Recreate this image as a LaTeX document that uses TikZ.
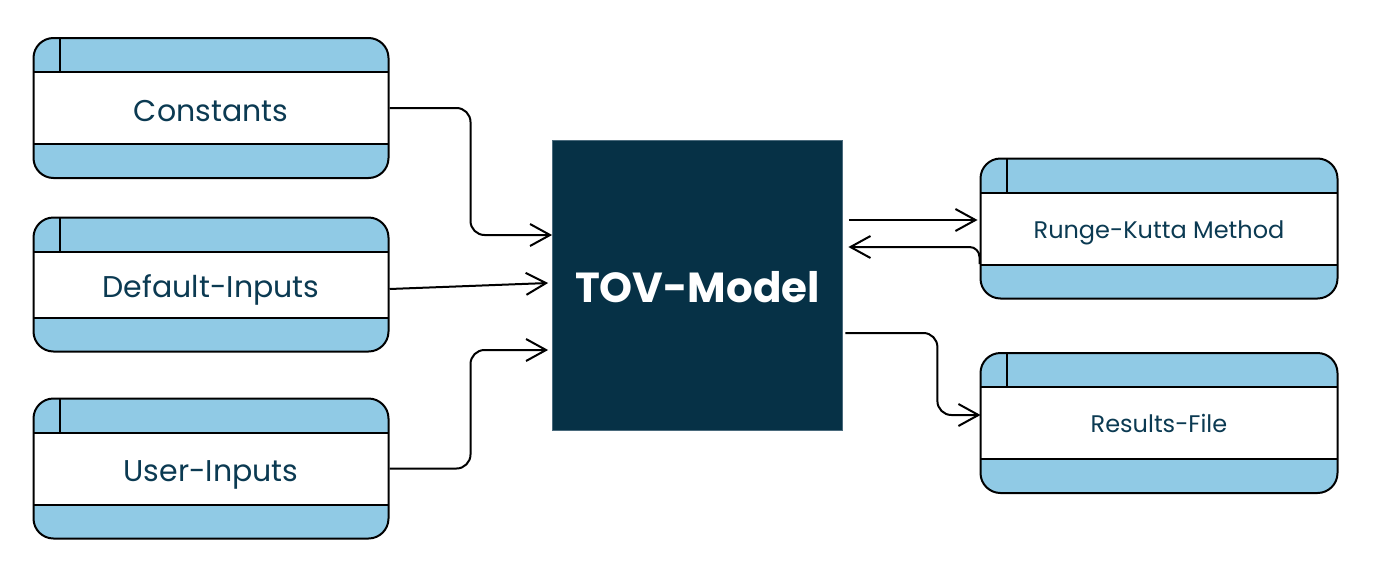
\documentclass[tikz,border=0pt]{standalone}
\usepackage{fontspec}
\setmainfont{Poppins}
\usetikzlibrary{arrows.meta}
\definecolor{bandblue}{HTML}{90CAE5}
\definecolor{navy}{HTML}{063146}
\definecolor{navyedge}{HTML}{4A6A7C}
\definecolor{txt}{HTML}{0B3A52}
\begin{document}
\begin{tikzpicture}[x=1pt,y=-1pt,
  dbox/.style={draw=black, line width=2pt, fill=bandblue, rounded corners=20pt,
    minimum width=355pt, inner sep=0pt, text=txt, text depth=0pt,
    path picture={
      \fill[white, sharp corners] ([yshift=-34pt]path picture bounding box.north west) rectangle ([yshift=34pt]path picture bounding box.south east);
      \draw[line width=2pt, sharp corners] ([yshift=-34pt]path picture bounding box.north west) -- ([yshift=-34pt]path picture bounding box.north east);
      \draw[line width=2pt, sharp corners] ([yshift=34pt]path picture bounding box.south west) -- ([yshift=34pt]path picture bounding box.south east);
      \draw[line width=2pt, sharp corners] ([xshift=26pt]path picture bounding box.north west) -- ([xshift=26pt,yshift=-34pt]path picture bounding box.north west);
    }},
  bigtxt/.style={font=\fontsize{30}{36}\selectfont, text height=26pt},
  smalltxt/.style={font=\fontsize{24}{29}\selectfont, text height=19.8pt},
  arr/.style={-{Straight Barb[length=20pt,width=22pt]}, line width=2pt, draw=black},
]
\useasboundingbox (0,0) rectangle (1378,576);

\node[dbox, bigtxt, minimum height=140pt] (const) at (211,108) {Constants};
\node[dbox, bigtxt, minimum height=134pt] (def) at (211,284.5) {Default-Inputs};
\node[dbox, bigtxt, minimum height=140pt] (user) at (211,468.5) {User-Inputs};

\node[dbox, smalltxt, minimum width=357pt, minimum height=140pt] (rk) at (1159,228.5) {Runge-Kutta Method};
\node[dbox, smalltxt, minimum width=357pt, minimum height=140pt] (res) at (1159,423) {Results-File};

\node[fill=navy, draw=navyedge, line width=0.8pt, minimum width=290pt, minimum height=290pt, inner sep=0pt,
      text=white, font=\fontsize{42}{50}\selectfont\bfseries, text height=35.4pt, text depth=0pt] (tov) at (697.5,285) {TOV-Model};

\draw[arr, rounded corners=14pt] (const.east) -- ++(81,0) |- ([yshift=50pt]tov.west);
\draw[arr] ([yshift=-4.5pt]def.east) -- ([xshift=-4pt,yshift=2pt]tov.west);
\draw[arr, rounded corners=14pt] (user.east) -- ++(81,0) |- ([xshift=-4pt,yshift=-65pt]tov.west);

\draw[arr] ([xshift=6.5pt,yshift=65pt]tov.east) -- ([xshift=-2pt,yshift=8.5pt]rk.west);
\draw[arr, rounded corners=10pt] ([yshift=-35.5pt]rk.west) |- ([xshift=5.5pt,yshift=38pt]tov.east);
\draw[arr, rounded corners=14pt] ([xshift=2.5pt,yshift=-48pt]tov.east) -- ++(92,0) |- ([xshift=1pt,yshift=8pt]res.west);
\end{tikzpicture}
\end{document}
